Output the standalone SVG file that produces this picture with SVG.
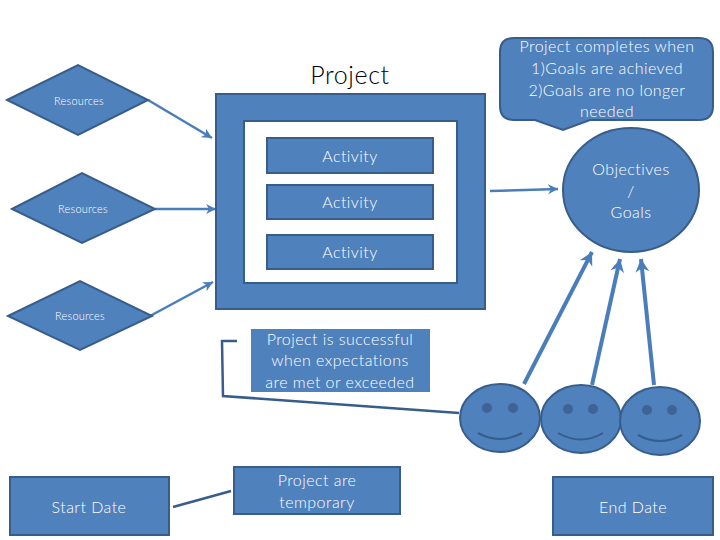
<svg xmlns="http://www.w3.org/2000/svg" width="720" height="540" viewBox="0 0 720 540">
<style>
.s{fill:#4f81bd;stroke:#385d8a;stroke-width:2}
.t{fill:#fff;font-family:"Lato","Liberation Sans",sans-serif;font-weight:300;text-anchor:middle;font-size:16px;letter-spacing:.45px}
.r{font-size:11px;letter-spacing:.2px}
.a{fill:none;stroke:#4a7ebb;stroke-width:2.5;marker-end:url(#h)}
.b{fill:none;stroke:#4a7ebb;stroke-width:4;marker-end:url(#h2)}
.d{fill:none;stroke:#385d8a;stroke-width:2.5}
.e{fill:#385d8a;opacity:.8}
.m{fill:none;stroke:#385d8a;stroke-width:2}
</style>
<defs>
<marker id="h" markerUnits="userSpaceOnUse" markerWidth="12" markerHeight="12" refX="10" refY="6" orient="auto"><path d="M0,1 L10,6 L0,11 L3,6 Z" fill="#4a7ebb"/></marker>
<marker id="h2" markerUnits="userSpaceOnUse" markerWidth="16" markerHeight="16" refX="13" refY="8" orient="auto"><path d="M0,1 L13,8 L0,15 L4,8 Z" fill="#4a7ebb"/></marker>
</defs>
<rect width="720" height="540" fill="#fff"/>
<g id="connectors">
<path class="a" d="M148,100 L212,138"/>
<path class="a" d="M155,209 L216,209"/>
<path class="a" d="M150,316 L213,282"/>
<path class="a" d="M490,191 L558,189"/>
<path class="b" d="M524,384 L592,252"/>
<path class="b" d="M592,385 L620,259"/>
<path class="b" d="M654,385 L641,259"/>
<path class="d" d="M237,341 L222,341 L223,396 L459,413"/>
<path class="d" d="M173,507 L231,491"/>
</g>
<g id="title"><text x="350" y="84" style="font-family:Lato,'Liberation Sans',sans-serif;font-weight:300;font-size:25px;letter-spacing:.6px;text-anchor:middle;fill:#000">Project</text></g>
<g id="resources-1"><path class="s" d="M7,100 L78,65 L148,100 L78,135 Z"/><text class="t r" x="79" y="105">Resources</text></g>
<g id="resources-2"><path class="s" d="M12,209 L82,173 L155,209 L82,243 Z"/><text class="t r" x="83" y="213">Resources</text></g>
<g id="resources-3"><path class="s" d="M8,316 L80,281 L152,316 L80,350 Z"/><text class="t r" x="80" y="320">Resources</text></g>
<g id="project-frame"><path d="M216,94 H485 V309 H216 Z M244,121 V283 H457 V121 Z" class="s" fill-rule="evenodd"/></g>
<g id="activity-1"><rect class="s" x="267" y="138" width="166" height="35"/><text class="t" x="350" y="162">Activity</text></g>
<g id="activity-2"><rect class="s" x="267" y="185" width="166" height="34"/><text class="t" x="350" y="208">Activity</text></g>
<g id="activity-3"><rect class="s" x="267" y="235" width="166" height="34"/><text class="t" x="350" y="258">Activity</text></g>
<g id="callout"><path class="s" d="M514,38 H699 Q713,38 713,52 V106 Q713,120 699,120 H590 L563,130 L535,120 H514 Q500,120 500,106 V52 Q500,38 514,38 Z"/>
<text class="t" x="607" y="52">Project completes when</text><text class="t" x="607" y="74">1)Goals are achieved</text><text class="t" x="607" y="96">2)Goals are no longer</text><text class="t" x="607" y="117">needed</text></g>
<g id="objectives"><ellipse class="s" cx="631" cy="190" rx="68" ry="62"/><text class="t" x="631" y="175">Objectives</text><text class="t" x="631" y="197">/</text><text class="t" x="631" y="218">Goals</text></g>
<g id="success"><rect x="251" y="329" width="179" height="63" fill="#4f81bd"/><text class="t" x="340" y="345">Project is successful</text><text class="t" x="340" y="366">when expectations</text><text class="t" x="340" y="388">are met or exceeded</text></g>
<g id="face-1"><ellipse class="s" cx="500" cy="418" rx="40" ry="34"/><ellipse class="e" cx="487" cy="408" rx="5" ry="5"/><ellipse class="e" cx="513" cy="408" rx="5" ry="5"/><path class="m" d="M478,433 Q500,445 522,433"/></g>
<g id="face-2"><ellipse class="s" cx="581" cy="419" rx="40" ry="34"/><ellipse class="e" cx="568" cy="409" rx="5" ry="5"/><ellipse class="e" cx="593" cy="409" rx="5" ry="5"/><path class="m" d="M558,433 Q581,446 603,433"/></g>
<g id="face-3"><ellipse class="s" cx="660" cy="421" rx="40" ry="34"/><ellipse class="e" cx="647" cy="410" rx="5" ry="5"/><ellipse class="e" cx="672" cy="410" rx="5" ry="5"/><path class="m" d="M638,435 Q660,447 682,435"/></g>
<g id="temporary"><rect class="s" x="234" y="467" width="166" height="47"/><text class="t" x="317" y="486">Project are</text><text class="t" x="317" y="508">temporary</text></g>
<g id="start"><rect class="s" x="10" y="477" width="159" height="58"/><text class="t" x="89" y="513">Start Date</text></g>
<g id="end"><rect class="s" x="553" y="477" width="160" height="58"/><text class="t" x="633" y="513">End Date</text></g>
</svg>
